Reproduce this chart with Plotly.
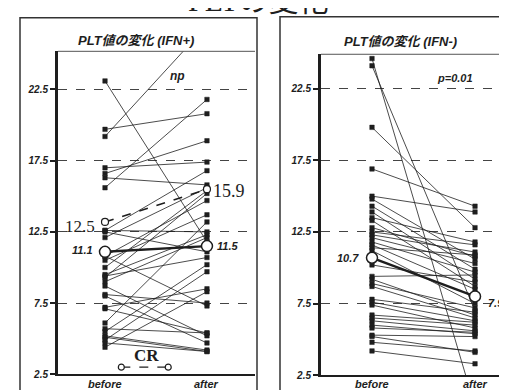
import plotly.graph_objects as go

# ---------------- data ----------------
x_labels = ["before", "after"]
y_ticks = [2.5, 7.5, 12.5, 17.5, 22.5]

# IFN+ (left panel) individual patients
ifn_pos_before = [23.1, 19.7, 19.2, 17.0, 16.6, 16.3, 15.6, 12.6, 12.6, 12.5, 12.1, 10.8,
                  10.8, 10.5, 10.0, 9.5, 9.4, 9.3, 9.0, 8.7, 8.1, 8.0, 7.2, 7.1, 6.1, 5.7,
                  5.5, 5.2, 5.1, 4.9, 4.7, 4.4]
ifn_pos_after = [11.8, 20.8, 27.0, 17.4, 18.9, 15.8, 21.8, 16.8, 12.5, 11.1, 15.6, 14.7,
                 7.3, 13.7, 15.4, 12.3, 10.7, 15.2, 12.1, 5.2, 7.5, 4.7, 8.5, 5.4, 13.2, 5.4,
                 10.2, 4.2, 4.1, 9.7, 4.1, 8.3]
ifn_pos_mean = [11.1, 11.5]
ifn_pos_dash = [13.2, 15.5]
cr_values = [3.0, 3.0]
cr_x = [0.16, 0.62]

# IFN- (right panel) individual patients
ifn_neg_before = [24.6, 24.1, 19.8, 16.9, 15.0, 14.8, 14.3, 13.9, 13.5, 13.3, 12.8, 12.5,
                  12.3, 12.1, 11.8, 11.6, 11.4, 11.2, 10.2, 9.4, 9.2, 8.9, 8.7, 7.8, 7.6,
                  7.4, 6.7, 6.5, 6.3, 6.0, 5.8, 5.3, 5.2, 4.8, 4.2]
ifn_neg_after = [0.3, 7.0, 12.8, 14.3, 13.9, 10.6, 9.9, 9.2, 11.8, 8.7, 10.8, 11.6,
                 11.1, 10.3, 9.7, 8.5, 10.9, 7.5, 9.0, 9.5, 6.7, 7.2, 6.5, 6.9, 6.3,
                 5.8, 6.2, 6.0, 5.6, 5.4, 5.5, 5.2, 4.1, 4.2, 3.3]
ifn_neg_mean = [10.7, 8.0]

# ---------------- helpers ----------------
W, H = 507, 390
def px(x):
    return x / W
def py(y):
    return 1 - y / H

def pairs(before, after):
    xs, ys = [], []
    for b, a in zip(before, after):
        xs += [0, 1, None]
        ys += [b, a, None]
    return xs, ys

fig = go.Figure()

INK = "#1e1e1e"
marker = dict(symbol="square", size=4.5, color=INK, line=dict(color=INK, width=0.5))

# left panel
lx, ly = pairs(ifn_pos_before, ifn_pos_after)
fig.add_trace(go.Scatter(x=lx, y=ly, mode="lines+markers", xaxis="x", yaxis="y",
                         line=dict(color=INK, width=0.8), marker=marker, showlegend=False))
fig.add_trace(go.Scatter(x=[0, 1], y=ifn_pos_dash, mode="lines+markers", xaxis="x", yaxis="y",
                         line=dict(color=INK, width=1.6, dash="dash"),
                         marker=dict(symbol="circle", size=7, color="white", line=dict(color=INK, width=1.2)),
                         showlegend=False))
fig.add_trace(go.Scatter(x=[0, 1], y=ifn_pos_mean, mode="lines+markers", xaxis="x", yaxis="y",
                         line=dict(color=INK, width=2.4),
                         marker=dict(symbol="circle", size=11, color="white", line=dict(color=INK, width=1.5)),
                         showlegend=False))
fig.add_trace(go.Scatter(x=cr_x, y=cr_values, mode="lines+markers", xaxis="x", yaxis="y",
                         line=dict(color=INK, width=1.2, dash="dash"),
                         marker=dict(symbol="circle", size=6, color="white", line=dict(color=INK, width=1.2)),
                         showlegend=False))

# right panel
rx, ry = pairs(ifn_neg_before, ifn_neg_after)
fig.add_trace(go.Scatter(x=rx, y=ry, mode="lines+markers", xaxis="x2", yaxis="y2",
                         line=dict(color=INK, width=0.8), marker=marker, showlegend=False))
fig.add_trace(go.Scatter(x=[0, 1], y=ifn_neg_mean, mode="lines+markers", xaxis="x2", yaxis="y2",
                         line=dict(color=INK, width=2.4),
                         marker=dict(symbol="circle", size=11, color="white", line=dict(color=INK, width=1.5)),
                         showlegend=False))

tickfont = dict(family="Liberation Sans, Arial, sans-serif", size=10, color=INK, weight="bold", style="italic")

def yax(domain_top, domain_bot, rng, anchor):
    return dict(domain=[py(domain_bot), py(domain_top)], range=rng, tickvals=y_ticks,
                ticktext=[str(v) for v in y_ticks], ticks="outside", ticklen=5, tickwidth=1.5,
                tickcolor=INK, tickfont=tickfont, showline=True, linecolor=INK, linewidth=3,
                showgrid=True, gridcolor="#444", gridwidth=1, griddash="dash", zeroline=False,
                anchor=anchor)

def xax(left, right, rng, anchor):
    return dict(domain=[px(left), px(right)], range=rng, tickvals=[0, 1],
                showticklabels=False, ticks="", showline=True, linecolor=INK, linewidth=2,
                showgrid=False, zeroline=False, anchor=anchor)

fig.update_layout(
    width=W, height=H, margin=dict(l=0, r=0, t=0, b=0),
    paper_bgcolor="white", plot_bgcolor="white",
    xaxis=xax(50, 247, [-0.461, 1.471], "y"),
    yaxis=yax(44, 372, [2.5, 25.18], "x"),
    xaxis2=xax(313, 507, [-0.495, 1.388], "y2"),
    yaxis2=yax(47, 373, [2.5, 24.9], "x2"),
)

# panel boxes and top frame lines
shapes = [
    dict(type="rect", xref="paper", yref="paper", x0=px(12), x1=px(249), y0=py(400), y1=py(10),
         line=dict(color="#333", width=1.5)),
    dict(type="rect", xref="paper", yref="paper", x0=px(272), x1=px(512), y0=py(400), y1=py(9),
         line=dict(color="#333", width=1.5)),
    dict(type="line", xref="paper", yref="paper", x0=px(50), x1=px(247), y0=py(44), y1=py(44),
         line=dict(color="#555", width=1)),
    dict(type="line", xref="paper", yref="paper", x0=px(313), x1=px(507), y0=py(47), y1=py(47),
         line=dict(color="#555", width=1)),
]
fig.update_layout(shapes=shapes)

sans = "Liberation Sans, Arial, Noto Sans CJK JP, sans-serif"
serif = "Liberation Serif, DejaVu Serif, Noto Sans CJK JP, serif"

def ann(text, x, y, size, family=sans, bold=True, italic=True, xanchor="center", xref="paper", xv=None):
    fig.add_annotation(text=text, xref=xref, yref="paper", x=(px(x) if xv is None else xv), y=py(y),
                       showarrow=False, xanchor=xanchor, yanchor="middle",
                       font=dict(family=family, size=size, color=INK,
                                 weight="bold" if bold else "normal",
                                 style="italic" if italic else "normal"))

# category labels under each panel, positioned through the x axes
for i, lab in enumerate(x_labels):
    ann(lab, 0, 382, 11, xref="x", xv=i)
    ann(lab, 0, 382, 11, xref="x2", xv=i)

ann("PLTの変化", 250, -8, 30, family=serif, bold=False, italic=False)
ann("PLT値の変化 (IFN+)", 128, 33, 13)
ann("PLT値の変化 (IFN-)", 392, 34, 13)
ann("np", 169, 69, 12)
ann("p=0.01", 447, 71, 11)
ann("12.5", 72, 222, 17, family=serif, bold=False, italic=False)
ann("11.1", 74, 246, 11)
ann("15.9", 221, 186, 18, family=serif, bold=False, italic=False)
ann("11.5", 219, 242, 11)
ann("CR", 138, 353, 17, family=serif, bold=True, italic=False)
ann("10.7", 340, 254, 11)
ann("7.9", 488, 300, 11)

fig.write_html("out.html")
